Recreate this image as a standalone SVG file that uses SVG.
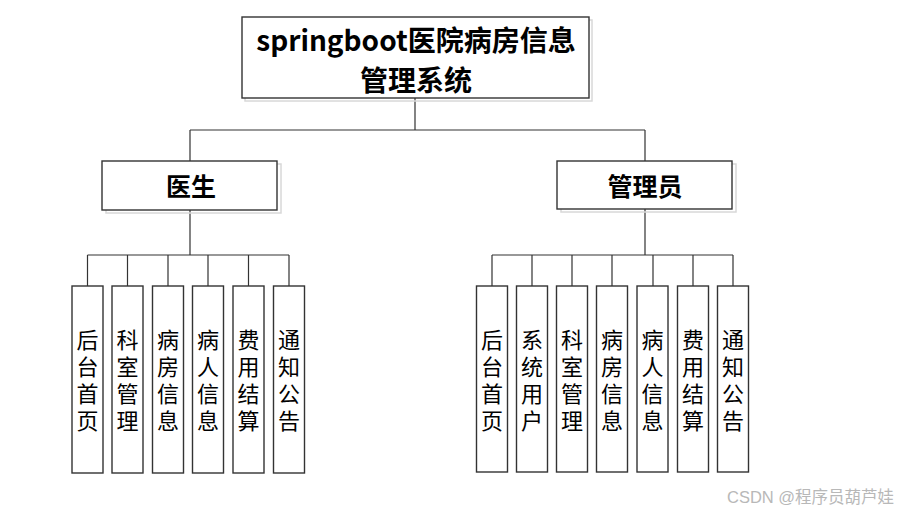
<svg xmlns="http://www.w3.org/2000/svg" width="903" height="511" viewBox="0 0 903 511">
<style>
.box{fill:#fff;stroke:#333;stroke-width:1.4}
.sh{fill:none;stroke:#d8d8d8;stroke-width:1.5}
.ln{fill:none;stroke:#333;stroke-width:1.2}
.t{font-family:"Noto Sans CJK SC","Liberation Sans",sans-serif;font-weight:bold;fill:#000;text-anchor:middle}
.v{font-family:"Noto Sans CJK SC",sans-serif;font-size:22px;fill:#000;text-anchor:middle;writing-mode:vertical-rl;text-orientation:upright;letter-spacing:5px}
.wm{font-family:"Liberation Sans","Noto Sans CJK SC",sans-serif;font-size:16.5px;fill:#b8b8b8}
</style>
<rect width="903" height="511" fill="#fff"/>
<g id="connectors">
<path class="ln" d="M415 98V130M190 130H645M190 130V161M645 130V161"/>
<path class="ln" d="M190 210V255M87.5 255H289M87.5 255V286M127.5 255V286M168 255V286M208 255V286M248.5 255V286M289 255V286"/>
<path class="ln" d="M645 209V255M492 255H733M492 255V286M532 255V286M572 255V286M612 255V286M653 255V286M693 255V286M733 255V286"/>
</g>
<g id="root">
<rect class="sh" x="245" y="20" width="347" height="81"/>
<rect class="box" x="242" y="17" width="347" height="81"/>
<text class="t" x="416" y="51" font-size="28">springboot医院病房信息</text>
<text class="t" x="416" y="91" font-size="28">管理系统</text>
</g>
<g id="doctor">
<rect class="sh" x="106" y="164" width="175" height="49"/>
<rect class="box" x="102" y="161" width="175" height="49"/>
<text class="t" x="191" y="196" font-size="25">医生</text>
</g>
<g id="admin">
<rect class="sh" x="561" y="164" width="175" height="48"/>
<rect class="box" x="557" y="161" width="175" height="48"/>
<text class="t" x="645" y="196" font-size="25">管理员</text>
</g>
<g id="d1"><rect class="box" x="72" y="286" width="31" height="187"/><text class="v" x="87.5" y="383">后台首页</text></g>
<g id="d2"><rect class="box" x="112" y="286" width="31" height="187"/><text class="v" x="127.5" y="383">科室管理</text></g>
<g id="d3"><rect class="box" x="152.5" y="286" width="31" height="187"/><text class="v" x="168" y="383">病房信息</text></g>
<g id="d4"><rect class="box" x="192.5" y="286" width="31" height="187"/><text class="v" x="208" y="383">病人信息</text></g>
<g id="d5"><rect class="box" x="233" y="286" width="31" height="187"/><text class="v" x="248.5" y="383">费用结算</text></g>
<g id="d6"><rect class="box" x="273.5" y="286" width="31" height="187"/><text class="v" x="289" y="383">通知公告</text></g>
<g id="a1"><rect class="box" x="476.5" y="286" width="31" height="186"/><text class="v" x="492" y="383">后台首页</text></g>
<g id="a2"><rect class="box" x="516.5" y="286" width="31" height="186"/><text class="v" x="532" y="383">系统用户</text></g>
<g id="a3"><rect class="box" x="556.5" y="286" width="31" height="186"/><text class="v" x="572" y="383">科室管理</text></g>
<g id="a4"><rect class="box" x="596.5" y="286" width="31" height="186"/><text class="v" x="612" y="383">病房信息</text></g>
<g id="a5"><rect class="box" x="637" y="286" width="31" height="186"/><text class="v" x="652.5" y="383">病人信息</text></g>
<g id="a6"><rect class="box" x="677.5" y="286" width="31" height="186"/><text class="v" x="693" y="383">费用结算</text></g>
<g id="a7"><rect class="box" x="717.5" y="286" width="31" height="186"/><text class="v" x="733" y="383">通知公告</text></g>
<text class="wm" x="727" y="503">CSDN @程序员葫芦娃</text>
</svg>
